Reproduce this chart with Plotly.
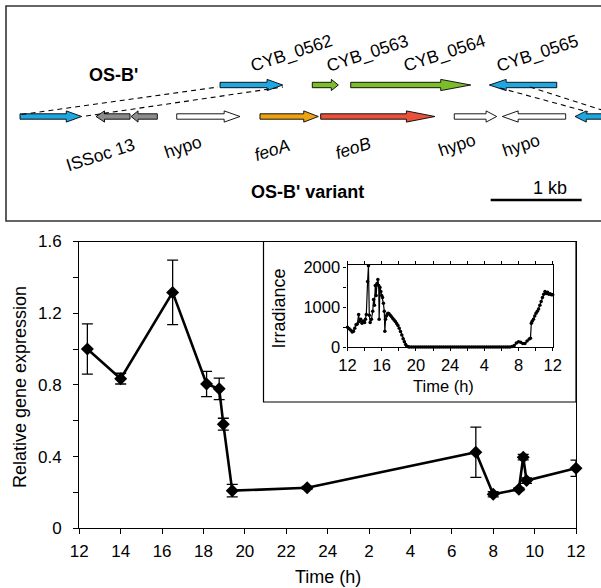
import plotly.graph_objects as go

# ---------------- data ----------------
# main panel: relative gene expression (time in h, 12 -> 36 = next-day 12)
expr_time = [12.39, 14.0, 16.51, 18.15, 18.76, 18.96, 19.39, 23.01, 31.16, 32.0, 33.24, 33.45, 33.61, 36.0]
expr_val = [1.00, 0.835, 1.316, 0.805, 0.778, 0.581, 0.21, 0.226, 0.424, 0.19, 0.218, 0.397, 0.266, 0.335]
expr_err = [0.14, 0.03, 0.18, 0.07, 0.06, 0.033, 0.035, 0.008, 0.14, 0.015, 0.008, 0.015, 0.015, 0.045]

main_tickvals = [12, 14, 16, 18, 20, 22, 24, 26, 28, 30, 32, 34, 36]
main_ticktext = ["12", "14", "16", "18", "20", "22", "24", "2", "4", "6", "8", "10", "12"]
y_tickvals = [0, 0.2, 0.4, 0.6, 0.8, 1.0, 1.2, 1.4, 1.6]
y_ticktext = ["0", "", "0.4", "", "0.8", "", "1.2", "", "1.6"]

# inset: irradiance
irr_time = [12.0, 12.2, 12.4, 12.55, 12.7, 12.85, 13.0, 13.15, 13.3, 13.4, 13.55, 13.7, 13.85, 14.0,
            14.1, 14.2, 14.35, 14.45, 14.55, 14.65, 14.8, 14.95, 15.05, 15.15, 15.25, 15.35, 15.45,
            15.55, 15.65, 15.7, 15.8, 15.9, 16.0, 16.1, 16.2, 16.3, 16.37, 16.45, 16.55, 16.65, 16.75,
            16.85, 17.0, 17.15, 17.3, 17.45, 17.6, 17.75, 17.9, 18.05, 18.2, 18.35, 18.5, 18.65, 18.8,
            18.95, 19.1, 19.25, 19.5, 19.75, 20.0, 20.25, 20.5, 20.75, 21.0, 21.25, 21.5, 21.75, 22.0,
            22.25, 22.5, 22.75, 23.0, 23.25, 23.5, 23.75, 24.0, 24.25, 24.5, 24.75, 25.0, 25.25, 25.5,
            25.75, 26.0, 26.25, 26.5, 26.75, 27.0, 27.25, 27.5, 27.75, 28.0, 28.25, 28.5, 28.75, 29.0,
            29.25, 29.5, 29.75, 30.0, 30.25, 30.5, 30.75, 31.0, 31.25, 31.5, 31.75, 32.0, 32.25, 32.5,
            32.75, 33.0, 33.25, 33.4, 33.5, 33.6, 33.75, 33.9, 34.05, 34.2, 34.35, 34.5, 34.65, 34.8,
            34.95, 35.1, 35.25, 35.4, 35.55, 35.7, 35.85, 36.0]
irr_val = [500, 460, 420, 380, 400, 470, 560, 580, 820, 640, 700, 600, 650, 620,
           700, 820, 1650, 2050, 800, 620, 700, 900, 1200, 1050, 1550, 1300, 1600,
           1700, 1550, 700, 1500, 1400, 1300, 1250, 1100, 900, 400, 700, 780, 830, 850,
           840, 800, 760, 720, 680, 640, 590, 540, 470, 390, 300, 210, 130, 60,
           20, 5, 0, 0, 0, 0, 0, 0, 0, 0, 0, 0, 0, 0,
           0, 0, 0, 0, 0, 0, 0, 0, 0, 0, 0, 0, 0, 0,
           0, 0, 0, 0, 0, 0, 0, 0, 0, 0, 0, 0, 0, 0,
           0, 0, 0, 0, 0, 0, 0, 0, 10, 40, 100, 130, 120, 90,
           90, 150, 200, 220, 600, 650, 700, 780, 850, 900, 960, 1050, 1150, 1250,
           1330, 1400, 1350, 1380, 1330, 1340, 1320, 1320]
inset_tickvals = [12, 14, 16, 18, 20, 22, 24, 26, 28, 30, 32, 34, 36]
inset_ticktext = ["12", "", "16", "", "20", "", "24", "", "4", "", "8", "", "12"]
irr_tickvals = [0, 500, 1000, 1500, 2000]
irr_ticktext = ["0", "", "1000", "", "2000"]

# gene diagram (positions in kb)
gene_start = [2.418, 3.432, 3.854, 6.118, 0.220, 1.429, 1.729, 1.942, 2.857, 3.524, 4.992, 6.216, 6.813]
gene_end = [3.107, 3.718, 5.173, 5.377, 0.898, 1.055, 1.440, 2.637, 3.498, 4.780, 5.458, 5.520, 6.319]
gene_row = [0, 0, 0, 0, 1, 1, 1, 1, 1, 1, 1, 1, 1]
gene_color = ["#1EA7E1", "#7CBD2A", "#7CBD2A", "#1EA7E1", "#1EA7E1", "#8C8C8C", "#8C8C8C",
              "#FFFFFF", "#EBA213", "#E8523A", "#FFFFFF", "#FFFFFF", "#1EA7E1"]
top_labels = ["CYB_0562", "CYB_0563", "CYB_0564", "CYB_0565"]
top_label_kb = [3.20, 4.04, 4.88, 5.91]
bottom_labels = ["ISSoc 13", "hypo", "<i>feoA</i>", "<i>feoB</i>", "hypo", "hypo"]
bottom_label_kb = [1.10, 2.01, 2.99, 3.88, 5.02, 5.73]

# ---------------- figure ----------------
W, H = 601, 588
PX_PER_KB = 91.0
row_y = [85, 116.5]
FONT = "Liberation Sans, Arial, Helvetica, sans-serif"

fig = go.Figure()

fig.add_trace(go.Scatter(
    x=expr_time, y=expr_val, mode="lines+markers",
    line=dict(color="black", width=2.6),
    marker=dict(symbol="diamond", size=10, color="black"),
    error_y=dict(type="data", array=expr_err, visible=True, color="black", thickness=1.3, width=5.5),
    cliponaxis=False, showlegend=False, xaxis="x", yaxis="y"))

fig.add_trace(go.Scatter(
    x=irr_time, y=irr_val, mode="lines+markers",
    line=dict(color="black", width=1.2),
    marker=dict(symbol="circle", size=3.5, color="black"),
    cliponaxis=False, showlegend=False, xaxis="x2", yaxis="y2"))

bh, hh = 2.7, 5.6
for s, e, r, c in zip(gene_start, gene_end, gene_row, gene_color):
    y = row_y[r]
    L = abs(e - s)
    d = 1 if e > s else -1
    h = min(max(0.25 * L * PX_PER_KB, 7), 30) / PX_PER_KB
    xb = e - d * h
    xs = [s, xb, xb, e, xb, xb, s, s]
    ys = [y - bh, y - bh, y - hh, y, y + hh, y + bh, y + bh, y - bh]
    fig.add_trace(go.Scatter(x=xs, y=ys, mode="lines", fill="toself", fillcolor=c,
                             line=dict(color="black", width=0.9), showlegend=False,
                             hoverinfo="skip", xaxis="x3", yaxis="y3", cliponaxis=False))

dash_x = [[0.238, 2.396], [0.945, 3.110], [5.495, 6.462], [5.824, 6.615]]
dash_y = [[114.5, 87], [116, 87], [88, 112], [87, 110]]
for xs, ys in zip(dash_x, dash_y):
    fig.add_trace(go.Scatter(x=xs, y=ys, mode="lines", line=dict(color="black", width=1.1, dash="5px,4px"),
                             showlegend=False, hoverinfo="skip", xaxis="x3", yaxis="y3", cliponaxis=False))

fig.add_trace(go.Scatter(x=[5.392, 6.392], y=[200, 200], mode="lines", line=dict(color="black", width=2.5),
                         showlegend=False, hoverinfo="skip", xaxis="x3", yaxis="y3", cliponaxis=False))

TXT = dict(family=FONT, color="black")
ann = []
for t, xk in zip(top_labels, top_label_kb):
    ann.append(dict(x=xk, y=53, xref="x3", yref="y3", text=t, showarrow=False, textangle=-18,
                    font=dict(size=17.5, **TXT)))
bl_y = [155, 147, 150, 148, 145, 145]
for t, xk, yy in zip(bottom_labels, bottom_label_kb, bl_y):
    ann.append(dict(x=xk, y=yy, xref="x3", yref="y3", text=t, showarrow=False, textangle=-18,
                    font=dict(size=17.5, **TXT)))
ann.append(dict(x=113 / PX_PER_KB, y=75, xref="x3", yref="y3", text="<b>OS-B'</b>", showarrow=False,
                font=dict(size=18, **TXT)))
ann.append(dict(x=307 / PX_PER_KB, y=192, xref="x3", yref="y3", text="<b>OS-B' variant</b>", showarrow=False,
                font=dict(size=18, **TXT)))
ann.append(dict(x=550 / PX_PER_KB, y=188, xref="x3", yref="y3", text="1 kb", showarrow=False,
                font=dict(size=18, **TXT)))
# axis titles
ann.append(dict(x=327.6 / W, y=1 - 577 / H, xref="paper", yref="paper", text="Time (h)", showarrow=False,
                xanchor="center", yanchor="middle", font=dict(size=18, **TXT)))
ann.append(dict(x=20 / W, y=1 - 387 / H, xref="paper", yref="paper", text="Relative gene expression",
                xanchor="center", yanchor="middle", showarrow=False, textangle=-90, font=dict(size=18, **TXT)))
ann.append(dict(x=443 / W, y=1 - 385.5 / H, xref="paper", yref="paper", text="Time (h)", showarrow=False,
                xanchor="center", yanchor="middle", font=dict(size=16.5, **TXT)))
ann.append(dict(x=278.5 / W, y=1 - 309 / H, xref="paper", yref="paper", text="Irradiance", showarrow=False,
                xanchor="center", yanchor="middle", textangle=-90, font=dict(size=18, **TXT)))

shapes = [
    dict(type="rect", xref="paper", yref="paper", x0=6 / W, x1=1.02, y0=1 - 221 / H, y1=1 - 6 / H,
         line=dict(color="#333333", width=1.6)),
    dict(type="rect", xref="paper", yref="paper", x0=263.5 / W, x1=576 / W, y0=1 - 402 / H, y1=1 - 241.5 / H,
         line=dict(color="black", width=1.2)),
]

axis_common = dict(showgrid=False, zeroline=False, linecolor="black", ticks="outside", tickcolor="black",
                   automargin=False)

fig.update_layout(
    width=W, height=H, margin=dict(l=0, r=0, t=0, b=0, autoexpand=False),
    paper_bgcolor="white", plot_bgcolor="rgba(0,0,0,0)",
    font=dict(family=FONT, color="black"),
    xaxis=dict(domain=[79.3 / W, 576 / W], range=[12, 36], tickvals=main_tickvals, ticktext=main_ticktext,
               linewidth=1.3, ticklen=5, mirror=True, anchor="y", ticklabelstandoff=2,
               tickfont=dict(size=17, **TXT), **axis_common),
    yaxis=dict(domain=[1 - 528.3 / H, 1 - 241.5 / H], range=[0, 1.6], tickvals=y_tickvals, ticktext=y_ticktext,
               linewidth=1.3, ticklen=5, mirror=True, anchor="x", ticklabelstandoff=8,
               tickfont=dict(size=17, **TXT), **axis_common),
    xaxis2=dict(domain=[347.5 / W, 552.7 / W], range=[12, 36], tickvals=inset_tickvals, ticktext=inset_ticktext,
                linewidth=1.1, ticklen=3, mirror="ticks", anchor="y2",
                tickfont=dict(size=16.5, **TXT), **axis_common),
    yaxis2=dict(domain=[1 - 347 / H, 1 - 264.9 / H], range=[0, 2070], tickvals=irr_tickvals, ticktext=irr_ticktext,
                linewidth=1.1, ticklen=3, mirror=True, anchor="x2",
                tickfont=dict(size=16.5, **TXT), **axis_common),
    xaxis3=dict(domain=[0, 1], range=[0, W / PX_PER_KB], visible=False, anchor="y3", fixedrange=True),
    yaxis3=dict(domain=[0, 1], range=[H, 0], visible=False, anchor="x3", fixedrange=True),
    annotations=ann, shapes=shapes,
)

fig.write_html("out.html", config={"responsive": False, "displayModeBar": False},
               post_script="document.body.style.margin='0';document.body.style.overflow='hidden';")
